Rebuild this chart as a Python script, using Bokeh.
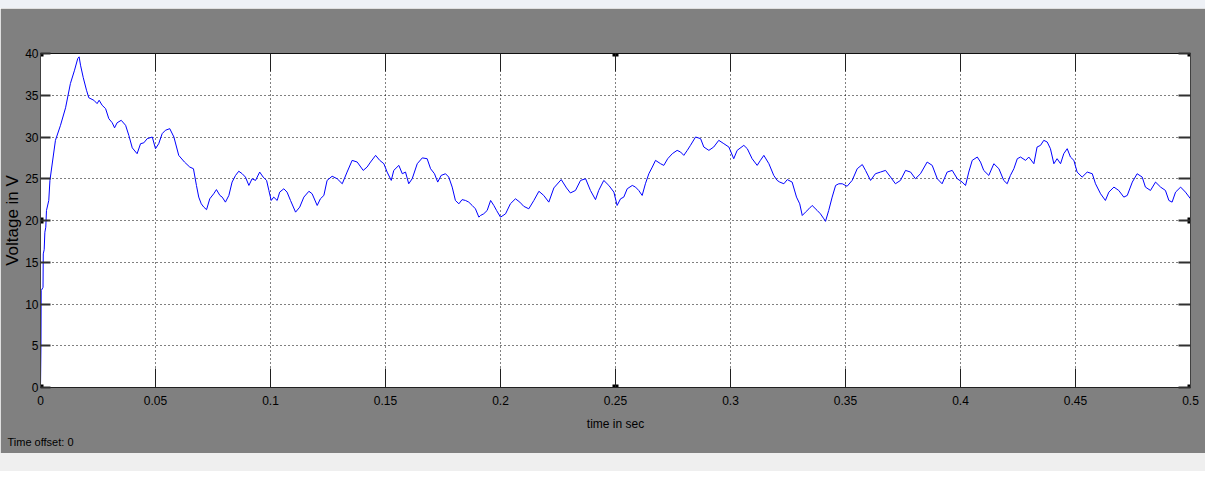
from bokeh.plotting import figure
from bokeh.models import (ColumnDataSource, LinearAxis, Range1d, FixedTicker, Title, Div)
from bokeh.layouts import column
from bokeh.embed import file_html
from bokeh.resources import INLINE

# ---- data ----
time_s = [
    0.0000, 0.0002, 0.0003, 0.0011, 0.0012, 0.0016, 0.0019, 0.0023, 0.0026, 0.0036,
    0.0041, 0.0065, 0.0087, 0.0109, 0.0130, 0.0148, 0.0162, 0.0168, 0.0174, 0.0186,
    0.0200, 0.0210, 0.0232, 0.0246, 0.0255, 0.0268, 0.0283, 0.0297, 0.0312, 0.0322,
    0.0333, 0.0351, 0.0370, 0.0384, 0.0399, 0.0420, 0.0435, 0.0449, 0.0464, 0.0486,
    0.0500, 0.0514, 0.0529, 0.0543, 0.0562, 0.0580, 0.0601, 0.0626, 0.0649, 0.0665,
    0.0678, 0.0688, 0.0699, 0.0710, 0.0722, 0.0736, 0.0753, 0.0765, 0.0780, 0.0790,
    0.0804, 0.0819, 0.0833, 0.0848, 0.0862, 0.0877, 0.0891, 0.0906, 0.0920, 0.0935,
    0.0953, 0.0968, 0.0983, 0.0993, 0.1003, 0.1014, 0.1029, 0.1040, 0.1058, 0.1072,
    0.1087, 0.1109, 0.1127, 0.1145, 0.1167, 0.1181, 0.1203, 0.1217, 0.1232, 0.1246,
    0.1268, 0.1290, 0.1312, 0.1333, 0.1355, 0.1377, 0.1403, 0.1420, 0.1435, 0.1457,
    0.1475, 0.1493, 0.1507, 0.1525, 0.1536, 0.1558, 0.1573, 0.1587, 0.1601, 0.1616,
    0.1638, 0.1660, 0.1681, 0.1696, 0.1713, 0.1727, 0.1742, 0.1761, 0.1775, 0.1790,
    0.1804, 0.1819, 0.1833, 0.1848, 0.1862, 0.1877, 0.1891, 0.1906, 0.1913, 0.1927,
    0.1942, 0.1957, 0.1971, 0.1983, 0.2000, 0.2022, 0.2043, 0.2065, 0.2084, 0.2101,
    0.2123, 0.2145, 0.2167, 0.2188, 0.2210, 0.2232, 0.2264, 0.2287, 0.2304, 0.2326,
    0.2348, 0.2370, 0.2391, 0.2413, 0.2427, 0.2449, 0.2471, 0.2493, 0.2507, 0.2522,
    0.2536, 0.2551, 0.2573, 0.2587, 0.2601, 0.2616, 0.2630, 0.2645, 0.2660, 0.2674,
    0.2696, 0.2710, 0.2727, 0.2747, 0.2768, 0.2783, 0.2797, 0.2812, 0.2826, 0.2848,
    0.2870, 0.2884, 0.2906, 0.2927, 0.2949, 0.2971, 0.2993, 0.3014, 0.3029, 0.3058,
    0.3073, 0.3094, 0.3116, 0.3130, 0.3145, 0.3167, 0.3188, 0.3203, 0.3214, 0.3232,
    0.3247, 0.3268, 0.3287, 0.3301, 0.3312, 0.3326, 0.3341, 0.3355, 0.3377, 0.3391,
    0.3406, 0.3413, 0.3427, 0.3442, 0.3457, 0.3471, 0.3486, 0.3507, 0.3529, 0.3551,
    0.3573, 0.3587, 0.3609, 0.3630, 0.3652, 0.3674, 0.3696, 0.3717, 0.3739, 0.3761,
    0.3783, 0.3804, 0.3826, 0.3855, 0.3877, 0.3899, 0.3920, 0.3942, 0.3964, 0.3986,
    0.4007, 0.4022, 0.4036, 0.4051, 0.4073, 0.4087, 0.4101, 0.4123, 0.4145, 0.4167,
    0.4188, 0.4203, 0.4217, 0.4232, 0.4247, 0.4261, 0.4283, 0.4297, 0.4319, 0.4333,
    0.4348, 0.4362, 0.4377, 0.4391, 0.4406, 0.4420, 0.4435, 0.4449, 0.4464, 0.4478,
    0.4493, 0.4507, 0.4529, 0.4551, 0.4573, 0.4587, 0.4609, 0.4630, 0.4645, 0.4667,
    0.4688, 0.4710, 0.4725, 0.4747, 0.4768, 0.4790, 0.4804, 0.4826, 0.4848, 0.4870,
    0.4891, 0.4906, 0.4920, 0.4935, 0.4957, 0.4978, 0.5000,
]
voltage_v = [
    0.0, 5.0, 11.6, 12.0, 16.0, 16.5, 18.6, 19.2, 21.2, 22.4,
    24.8, 29.6, 31.4, 33.5, 36.4, 38.0, 39.4, 39.6, 38.6, 37.1,
    35.6, 34.7, 34.4, 34.0, 34.4, 33.8, 33.4, 32.2, 31.7, 31.1,
    31.7, 32.0, 31.4, 30.2, 28.7, 28.0, 29.2, 29.3, 29.8, 30.0,
    28.6, 29.2, 30.4, 30.8, 31.0, 30.0, 27.8, 27.0, 26.4, 26.2,
    24.2, 22.8, 22.0, 21.6, 21.3, 22.6, 23.2, 23.7, 23.0, 22.8,
    22.2, 23.0, 24.6, 25.4, 25.9, 25.6, 25.2, 24.2, 25.0, 24.8,
    25.8, 25.2, 24.8, 23.6, 22.4, 22.8, 22.4, 23.4, 23.8, 23.4,
    22.4, 21.0, 21.6, 22.8, 23.5, 23.2, 21.8, 22.6, 23.0, 24.8,
    25.3, 25.0, 24.4, 25.8, 27.2, 27.0, 26.0, 26.4, 27.0, 27.8,
    27.2, 26.8, 25.8, 24.8, 26.0, 26.6, 25.6, 25.8, 24.4, 25.0,
    26.8, 27.5, 27.4, 26.2, 25.6, 24.6, 25.4, 25.6, 25.2, 24.0,
    22.4, 22.0, 22.5, 22.4, 22.2, 21.8, 21.4, 20.4, 20.6, 20.8,
    21.2, 22.4, 21.8, 21.2, 20.4, 20.8, 22.0, 22.6, 22.2, 21.7,
    21.4, 22.4, 23.5, 23.0, 22.2, 23.9, 24.9, 23.9, 23.3, 23.6,
    24.8, 25.0, 23.6, 22.5, 23.6, 24.8, 24.2, 23.4, 21.8, 22.6,
    22.8, 23.8, 24.2, 24.0, 23.6, 23.0, 24.4, 25.6, 26.4, 27.2,
    26.8, 26.6, 27.4, 28.0, 28.4, 28.2, 27.8, 28.4, 29.0, 30.0,
    29.8, 28.8, 28.4, 28.8, 29.6, 29.2, 28.8, 27.4, 28.4, 29.0,
    28.6, 27.4, 26.6, 27.2, 27.8, 26.8, 25.4, 24.8, 24.6, 24.4,
    24.9, 24.6, 22.8, 22.0, 20.6, 21.0, 21.4, 21.8, 21.2, 20.8,
    20.2, 19.9, 21.2, 22.8, 24.2, 24.4, 24.4, 24.1, 24.8, 26.2,
    26.7, 26.0, 24.8, 25.6, 25.8, 26.0, 25.2, 24.4, 24.8, 26.0,
    25.8, 25.0, 25.6, 27.0, 26.6, 25.0, 24.4, 25.8, 26.0, 25.0,
    24.6, 24.2, 25.8, 27.2, 27.6, 27.0, 26.0, 25.4, 26.8, 26.2,
    24.8, 24.4, 25.4, 26.2, 27.4, 27.6, 27.2, 27.6, 26.8, 28.8,
    29.0, 29.6, 29.4, 28.6, 26.8, 27.4, 26.8, 28.0, 28.6, 27.6,
    27.2, 25.8, 25.2, 25.8, 25.6, 24.4, 23.2, 22.4, 23.4, 24.0,
    23.6, 22.8, 23.0, 24.6, 25.6, 25.2, 24.0, 23.6, 24.6, 24.0,
    23.6, 22.4, 22.2, 23.4, 24.0, 23.4, 22.6,
]

x_ticks = [0, 0.05, 0.1, 0.15, 0.2, 0.25, 0.3, 0.35, 0.4, 0.45, 0.5]
x_tick_labels = ["0", "0.05", "0.1", "0.15", "0.2", "0.25", "0.3", "0.35", "0.4", "0.45", "0.5"]
y_ticks = [0, 5, 10, 15, 20, 25, 30, 35, 40]
y_tick_labels = ["0", "5", "10", "15", "20", "25", "30", "35", "40"]

x_min, x_max = 0, 0.5
y_min, y_max = 0, 40

FONT = "Liberation Sans"

p = figure(frame_width=1150, frame_height=334,
           x_range=Range1d(x_min, x_max), y_range=Range1d(y_min, y_max),
           output_backend="svg", toolbar_location=None,
           background_fill_color="white", border_fill_color="#808080",
           min_border_left=40, min_border_right=15, min_border_top=45, min_border_bottom=66,
           x_axis_label="time in sec", y_axis_label="Voltage in V")
p.outline_line_color = None

# grids
p.xgrid.ticker = FixedTicker(ticks=x_ticks)
p.ygrid.ticker = FixedTicker(ticks=y_ticks)
for g in (p.xgrid, p.ygrid):
    g.grid_line_color = "black"
    g.grid_line_dash = "1 3"
    g.grid_line_width = 1
    g.grid_line_alpha = 1.0

# bottom axis
xa = p.xaxis[0]
xa.ticker = FixedTicker(ticks=x_ticks)
xa.major_label_overrides = {t: s for t, s in zip(x_ticks, x_tick_labels)}
xa.major_tick_in = 19
xa.major_tick_out = 0
xa.minor_tick_line_color = None
xa.major_tick_line_color = "#202020"
xa.axis_line_color = "#202020"
xa.major_label_standoff = 8
xa.major_label_text_font = FONT
xa.major_label_text_font_size = "12px"
xa.major_label_text_color = "black"
xa.axis_label_standoff = 9
xa.axis_label_text_font = FONT
xa.axis_label_text_font_size = "12px"
xa.axis_label_text_font_style = "normal"
xa.axis_label_text_color = "black"

# left axis
ya = p.yaxis[0]
ya.ticker = FixedTicker(ticks=y_ticks)
ya.major_label_overrides = {t: s for t, s in zip(y_ticks, y_tick_labels)}
ya.major_tick_in = 10
ya.major_tick_out = 0
ya.major_tick_line_width = 2
ya.major_tick_line_color = "#303030"
ya.minor_tick_line_color = None
ya.axis_line_color = "#404040"
ya.major_label_standoff = 2
ya.major_label_text_font = FONT
ya.major_label_text_font_size = "12px"
ya.major_label_text_color = "black"
ya.axis_label_standoff = 0
ya.axis_label_text_font = FONT
ya.axis_label_text_font_size = "17px"
ya.axis_label_text_font_style = "normal"
ya.axis_label_text_color = "black"

# top and right box axes (ticks only)
top = LinearAxis(ticker=FixedTicker(ticks=x_ticks), major_tick_in=18, major_tick_out=0,
                 minor_tick_line_color=None, major_label_text_color=None,
                 major_label_text_font_size="1px", major_label_standoff=0,
                 axis_line_color="#101010", major_tick_line_color="#202020")
p.add_layout(top, "above")
right = LinearAxis(ticker=FixedTicker(ticks=y_ticks), major_tick_in=12, major_tick_out=0,
                   minor_tick_line_color=None, major_label_text_color=None,
                   major_label_text_font_size="1px", major_label_standoff=0,
                   axis_line_color="#404040", major_tick_line_color="#303030",
                   major_tick_line_width=2)
p.add_layout(right, "right")

# trace
src = ColumnDataSource(dict(t=time_s, v=voltage_v))
p.line("t", "v", source=src, line_color="#0000FF", line_width=1)

# selection handles of the axes object
x_mid = (x_min + x_max) / 2
y_mid = (y_min + y_max) / 2
hx = [x_min, x_mid, x_max, x_min, x_max, x_min, x_mid, x_max]
hy = [y_min, y_min, y_min, y_mid, y_mid, y_max, y_max, y_max]
p.scatter(hx, hy, marker="square", size=7, fill_color="black",
          line_color="white", line_width=1)

# "Time offset" caption below the x axis
p.add_layout(Title(text="Time offset:  0", align="left", offset=-33,
                   text_font=FONT, text_font_size="11px",
                   text_font_style="normal", text_color="black", standoff=0), "below")

top_strip = Div(width=1205, height=8, margin=0, styles={"background-color": "#EEF1F6"})
bottom_band = Div(width=1205, height=18, margin=0, styles={"background-color": "#EFEFEF"})
layout = column(top_strip, p, bottom_band, spacing=0)

open("out.html", "w").write(file_html(layout, INLINE))
